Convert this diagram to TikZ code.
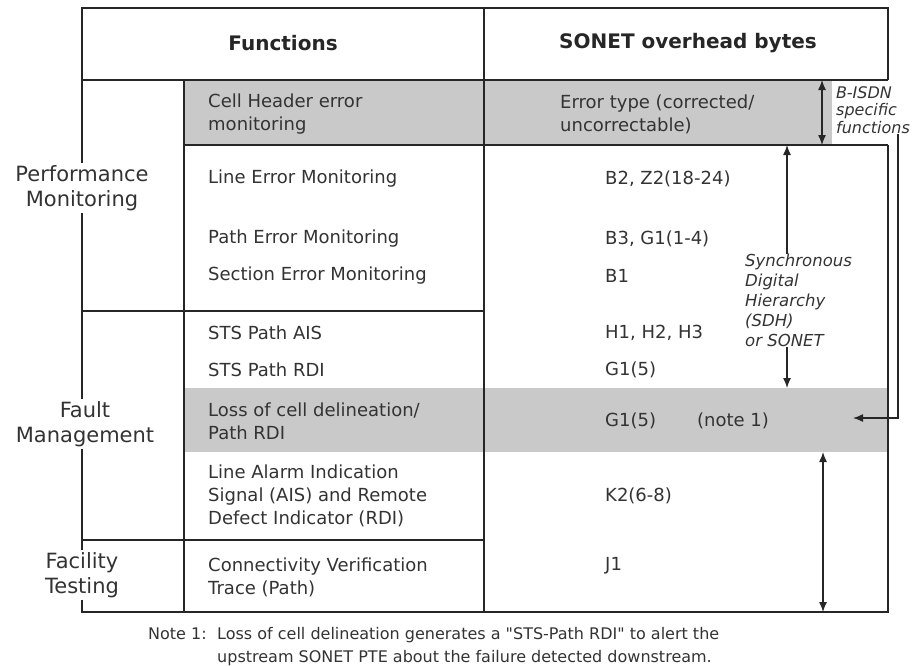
\documentclass[tikz,border=0pt]{standalone}
\usepackage{fontspec}
\setmainfont{DejaVu Sans}
\usetikzlibrary{arrows.meta}
\begin{document}
\begin{tikzpicture}[x=1pt,y=-1pt,
		rule/.style={line width=1.5pt,color=black!85},
		shade/.style={color=black!21},
		head/.style={font=\fontsize{20}{24}\selectfont\bfseries,text=black!85},
		group/.style={align=center,fill=white,inner sep=2pt,font=\fontsize{21}{25}\selectfont,text=black!80},
		item/.style={anchor=west,align=left,inner sep=0,font=\fontsize{18}{23}\selectfont,text=black!80},
		remark/.style={anchor=north west,align=left,inner sep=0,text=black!80},
		pointer/.style={line width=1.3pt,color=black!85,-{Latex[length=10pt,width=8pt]}},
		span/.style={line width=1.3pt,color=black!85,{Latex[length=10pt,width=8pt]}-{Latex[length=10pt,width=8pt]}},
		footnote/.style={anchor=base west,inner sep=0,font=\fontsize{16}{19}\selectfont,text=black!80}]
		\useasboundingbox (0,0) rectangle (917,665);
		\fill [shade] (184,80) rectangle (832,145);
		\fill [shade] (184,388) rectangle (888,452);
		\draw [rule] (888,80) -- (888,8) -- (82,8) -- (82,612) -- (888,612) -- (888,145);
		\draw [rule] (82,80) -- (888,80) (184,145) -- (888,145)
		(82,311) -- (484,311) (82,540) -- (484,540)
		(184,80) -- (184,612) (484,8) -- (484,612);
		\node [head] at (283,43) (functions) {Functions};
		\node [head] at (688,43) (bytes) {SONET overhead bytes};
		\node [group] at (82,188) (perf) {Performance\\Monitoring};
		\node [group] at (85,424) (fault) {Fault\\Management};
		\node [group] at (82,575) (facility) {Facility\\Testing};
		\node [item] at (208,114.5) (cellhdr) {Cell Header error\\monitoring};
		\node [item] at (208,179) (lineerr) {Line Error Monitoring};
		\node [item] at (208,239) (patherr) {Path Error Monitoring};
		\node [item] at (208,276) (secterr) {Section Error Monitoring};
		\node [item] at (208,333) (stsais) {STS Path AIS};
		\node [item] at (208,370) (stsrdi) {STS Path RDI};
		\node [item] at (208,421.5) (lcd) {Loss of cell delineation/\\Path RDI};
		\node [item] at (208,495.5) (lineais) {Line Alarm Indication\\Signal (AIS) and Remote\\Defect Indicator (RDI)};
		\node [item] at (208,577.5) (conn) {Connectivity Verification\\Trace (Path)};
		\node [item] at (560,114.5) (errtype) {Error type (corrected/\\uncorrectable)};
		\node [item] at (605,179) (b2) {B2, Z2(18-24)};
		\node [item] at (605,239) (b3) {B3, G1(1-4)};
		\node [item] at (605,276) (b1) {B1};
		\node [item] at (605,333) (h1) {H1, H2, H3};
		\node [item] at (605,370) (g1a) {G1(5)};
		\node [item] at (605,421) (g1b) {G1(5)};
		\node [item] at (697,421) (note) {(note 1)};
		\node [item] at (605,496) (k2) {K2(6-8)};
		\node [item] at (605,566) (j1) {J1};
		\node [remark,font=\fontsize{16}{17.5}\selectfont\itshape] at (836,86) (bisdn) {B-ISDN\\specific\\functions};
		\node [remark,font=\fontsize{16.5}{20}\selectfont\itshape] at (745,254) (sdh) {Synchronous\\Digital\\Hierarchy\\(SDH)\\or SONET};
		\coordinate (isdntop) at (822,80);
		\coordinate (isdnbot) at (822,145);
		\coordinate (sdhtop) at (787,145);
		\coordinate (sdhbot) at (787,388);
		\coordinate (lowtop) at (823,452);
		\coordinate (lowbot) at (823,612);
		\coordinate (corner) at (898,418);
		\coordinate (lcdtip) at (853,418);
		\draw [span] (isdntop) -- (isdnbot);
		\draw [pointer] (sdh.north -| sdhtop) -- (sdhtop);
		\draw [pointer] (sdh.south -| sdhbot) -- (sdhbot);
		\draw [span] (lowtop) -- (lowbot);
		\draw [pointer] (bisdn.south -| corner) -- (corner) -- (lcdtip);
		\node [footnote] at (148,639) (notelabel) {Note 1:};
		\node [footnote] at (217,639) (noteline1) {Loss of cell delineation generates a \textquotedbl STS-Path RDI\textquotedbl\ to alert the};
		\node [footnote] at (217,662) (noteline2) {upstream SONET PTE about the failure detected downstream.};
	\end{tikzpicture}
\end{document}
